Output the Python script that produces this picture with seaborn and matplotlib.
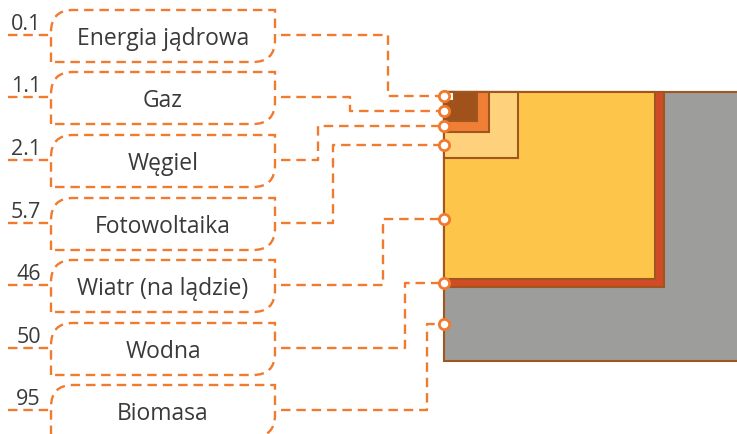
import numpy as np
import matplotlib.pyplot as plt
import seaborn as sns
from matplotlib.patches import Rectangle, PathPatch
from matplotlib.path import Path

# ── Data ──────────────────────────────────────────────────────────────────────

sources = ['Energia jądrowa', 'Gaz', 'Węgiel', 'Fotowoltaika',
           'Wiatr (na lądzie)', 'Wodna', 'Biomasa']
values = [0.1, 1.1, 2.1, 5.7, 46, 50, 95]
value_labels = ['0.1', '1.1', '2.1', '5.7', '46', '50', '95']
fills = ['#FFFFFF', '#A0521A', '#F07F35', '#FED27C', '#FDC54A', '#D04C27', '#9D9D9B']

# ── Layout ────────────────────────────────────────────────────────────────────

ORANGE = '#F07A2E'
EDGE = '#A0561E'
TEXT = '#3A3A3A'
x0, y0 = 444, 92          # common top-left corner of the nested blocks
k = 27.6                  # px per sqrt(unit)
aspect = 1.125
box_l, box_r, box_h = 51, 275, 52
box_tops = [10, 72, 135, 198, 260, 323, 385]
elbow_x = [388, 350, 318, 333, 383, 405, 427]
dash = (0, (4, 2.5))

sns.set_theme(style='white')
plt.rcParams['font.family'] = ['Open Sans', 'DejaVu Sans']

fig = plt.figure(figsize=(7.37, 4.34), dpi=100)
ax = fig.add_axes([0, 0, 1, 1])
ax.set_xlim(0, 737)
ax.set_ylim(434, 0)
ax.axis('off')

heights = k * np.sqrt(np.array(values))

# nested blocks, largest first
for h, c in sorted(zip(heights, fills), key=lambda t: -t[0]):
    ax.add_patch(Rectangle((x0, y0), aspect * h, h, facecolor=c,
                           edgecolor=EDGE, linewidth=1.5, zorder=2))

# anchor points: middle of each block's band on the left edge
prev = np.concatenate([[0], heights[:-1]])
anchor_y = y0 + (prev + heights) / 2

r = 22  # corner radius
for i, (name, lab, top) in enumerate(zip(sources, value_labels, box_tops)):
    bot = top + box_h
    verts = [(box_l, bot), (box_l, top + r), (box_l, top), (box_l + r, top),
             (box_r, top), (box_r, bot - r), (box_r, bot), (box_r - r, bot),
             (box_l, bot)]
    codes = [Path.MOVETO, Path.LINETO, Path.CURVE3, Path.CURVE3,
             Path.LINETO, Path.LINETO, Path.CURVE3, Path.CURVE3, Path.LINETO]
    ax.add_patch(PathPatch(Path(verts, codes), facecolor='none', edgecolor=ORANGE,
                           linewidth=1.7, linestyle=dash, zorder=3))
    ey = top + 25
    # left leader under the value
    ax.plot([8, box_l], [ey, ey], color=ORANGE, lw=1.7, linestyle=dash, zorder=3)
    ax.text(41, top + 14.5, lab, ha='right', va='center', fontsize=15.5, color=TEXT)
    ax.text((box_l + box_r) / 2, top + 29, name, ha='center', va='center',
            fontsize=16.5, color=TEXT)
    # connector to the block
    ex = elbow_x[i]
    ax.plot([box_r + 6, ex, ex, x0], [ey, ey, anchor_y[i], anchor_y[i]],
            color=ORANGE, lw=1.7, linestyle=dash, zorder=3)

sns.scatterplot(x=[x0] * len(values), y=anchor_y, ax=ax, s=55, color='white',
                edgecolor=ORANGE, linewidth=2, zorder=5, legend=False)

plt.savefig('out.png', dpi=100)
